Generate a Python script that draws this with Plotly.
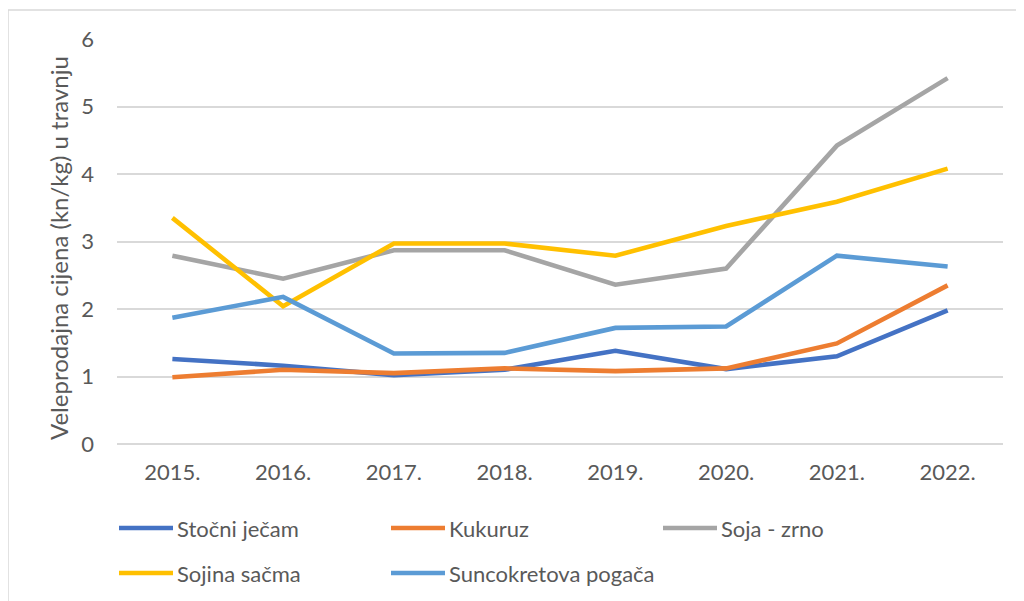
import plotly.graph_objects as go

# data (wholesale price, kn/kg, April)
years = ["2015.", "2016.", "2017.", "2018.", "2019.", "2020.", "2021.", "2022."]
stocni_jecam = [1.26, 1.16, 1.02, 1.10, 1.38, 1.11, 1.30, 1.98]
kukuruz = [0.99, 1.10, 1.05, 1.12, 1.08, 1.12, 1.49, 2.35]
soja_zrno = [2.79, 2.45, 2.87, 2.87, 2.36, 2.60, 4.42, 5.42]
sojina_sacma = [3.35, 2.04, 2.97, 2.97, 2.79, 3.23, 3.59, 4.08]
suncokretova_pogaca = [1.87, 2.18, 1.34, 1.35, 1.72, 1.74, 2.79, 2.63]

series = [
    ("Stočni ječam", stocni_jecam, "#4472C4"),
    ("Kukuruz", kukuruz, "#ED7D31"),
    ("Soja - zrno", soja_zrno, "#A5A5A5"),
    ("Sojina sačma", sojina_sacma, "#FFC000"),
    ("Suncokretova pogača", suncokretova_pogaca, "#5B9BD5"),
]
y_title = "Veleprodajna cijena (kn/kg) u travnju"

# page has an 8px body margin, so figure pixels = page pixels - 8
OFF = 8
W, H = 1024, 601
ML, MR, MT, MB = 109, 29, 31, 165
FONT = "Lato"
TXT = "#595959"


def px_x(px):
    return (px - OFF - ML) / (W - ML - MR)


def px_y(py):
    return (H - MB - (py - OFF)) / (H - MT - MB)


fig = go.Figure()
for name, vals, color in series:
    fig.add_trace(go.Scatter(x=years, y=vals, name=name, mode="lines",
                             line=dict(color=color, width=4.6),
                             showlegend=False))

# legend drawn by hand so line samples and row spacing match
shapes, annots = [], []
for i, (name, vals, color) in enumerate(series):
    x0 = 119 + (i % 3) * 272
    y = 528 + (i // 3) * 45
    shapes.append(dict(type="line", xref="paper", yref="paper",
                       x0=px_x(x0), x1=px_x(x0 + 54), y0=px_y(y), y1=px_y(y),
                       line=dict(color=color, width=4.6)))
    annots.append(dict(xref="paper", yref="paper", x=px_x(x0 + 56), y=px_y(y),
                       text=name, showarrow=False, xanchor="left", yanchor="middle",
                       font=dict(family=FONT, size=22, color=TXT)))

# y axis title
annots.append(dict(xref="paper", yref="paper", x=px_x(58), y=px_y(248),
                   text=y_title, textangle=-90, showarrow=False,
                   xanchor="center", yanchor="middle",
                   font=dict(family=FONT, size=24, color=TXT)))

# outer chart frame
shapes.append(dict(type="rect", xref="paper", yref="paper",
                   x0=px_x(8), x1=px_x(1040), y0=px_y(620), y1=px_y(10),
                   line=dict(color="#D9D9D9", width=1.5), layer="below"))

fig.update_layout(
    width=W, height=H,
    margin=dict(l=ML, r=MR, t=MT, b=MB),
    plot_bgcolor="white", paper_bgcolor="white",
    font=dict(family=FONT, size=22, color=TXT),
    shapes=shapes, annotations=annots,
    xaxis=dict(type="category", range=[-0.5, 7.5], showgrid=False,
               showline=False, ticks="", ticklabelstandoff=13,
               tickfont=dict(size=22, color=TXT)),
    yaxis=dict(range=[0, 6], dtick=1, showgrid=True, gridcolor="#D9D9D9",
               gridwidth=1.5, zeroline=True, zerolinecolor="#D9D9D9",
               zerolinewidth=1.5, showline=False, ticks="",
               ticklabelstandoff=22, tickfont=dict(size=22, color=TXT)),
)

fig.write_html("out.html")
